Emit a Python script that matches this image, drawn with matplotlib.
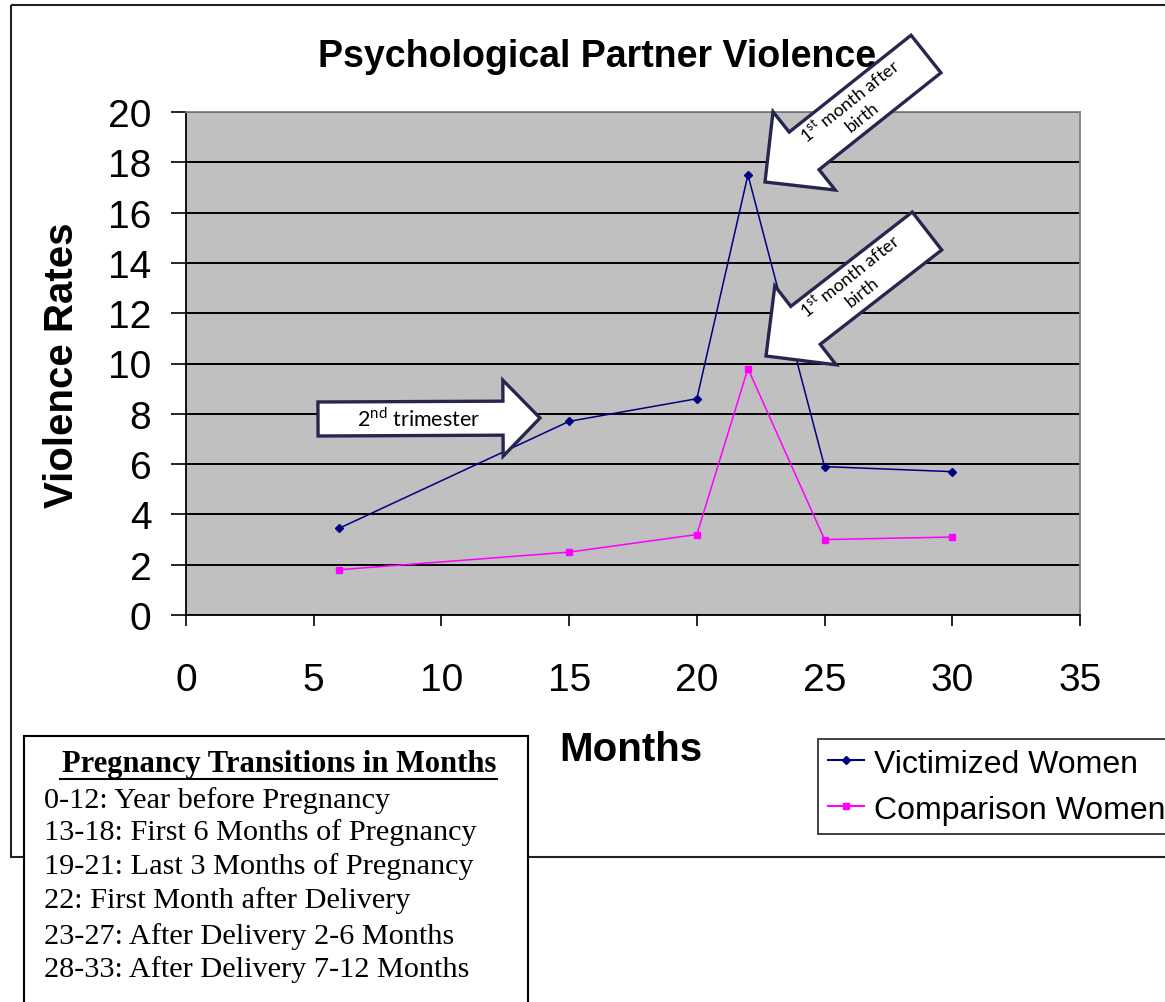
import numpy as np
import matplotlib
matplotlib.use("Agg")
import matplotlib.pyplot as plt
from matplotlib.patches import Polygon, Rectangle
from matplotlib.lines import Line2D
from matplotlib.transforms import Affine2D

# data
months = [6, 15, 20, 22, 25, 30]
victimized = [3.45, 7.7, 8.6, 17.5, 5.9, 5.7]
comparison = [1.8, 2.5, 3.2, 9.8, 3.0, 3.1]
series_names = ["Victimized Women", "Comparison Women"]
x_ticks = [0, 5, 10, 15, 20, 25, 30, 35]
y_ticks = [0, 2, 4, 6, 8, 10, 12, 14, 16, 18, 20]
transitions = [
    "0-12: Year before Pregnancy",
    "13-18: First 6 Months of Pregnancy",
    "19-21: Last 3 Months of Pregnancy",
    "22: First Month after Delivery",
    "23-27: After Delivery 2-6 Months",
    "28-33: After Delivery 7-12 Months",
]

plt.rcParams["font.family"] = ["Liberation Sans", "DejaVu Sans"]
plt.rcParams["mathtext.fontset"] = "custom"
plt.rcParams["mathtext.rm"] = "Lato"

W, H = 1165, 1003
fig = plt.figure(figsize=(W / 100, H / 100), dpi=100)
# pixel coordinates, origin top-left
px = Affine2D().scale(1 / W, -1 / H).translate(0, 1) + fig.transFigure

# outer chart border
fig.patches.append(Rectangle((11, 6), 1200, 852, transform=px, fill=False,
                             edgecolor="#222222", lw=1.5, zorder=0))

ax = fig.add_axes([186 / W, 1 - 616 / H, (1080 - 186) / W, (616 - 113) / H])
ax.set_facecolor("#C0C0C0")
ax.plot(months, victimized, color="#000080", lw=1.1, marker="D", ms=4, zorder=3)
ax.plot(months, comparison, color="#FF00FF", lw=1.1, marker="s", ms=4.5, zorder=3)

ax.set_xlim(0, 35)
ax.set_ylim(0, 20)
ax.set_xticks(x_ticks)
ax.set_yticks(y_ticks)
ax.yaxis.grid(True, color="black", lw=1.4)
ax.set_axisbelow(True)
ax.tick_params(axis="y", direction="out", length=11, width=1.2, pad=14, labelsize=28)
ax.tick_params(axis="x", direction="out", length=8, width=1.2, pad=26, labelsize=28)
for s in ["left", "bottom"]:
    ax.spines[s].set_color("black")
    ax.spines[s].set_linewidth(1.3)
for s in ["top", "right"]:
    ax.spines[s].set_color("#808080")
    ax.spines[s].set_linewidth(1.3)

fig.text(597 / W, 1 - 57 / H, "Psychological Partner Violence", ha="center",
         va="center", fontsize=27, fontweight="bold")
fig.text(62 / W, 1 - 365 / H, "Violence Rates", ha="center", va="center",
         rotation=90, fontsize=29, fontweight="bold")
fig.text(631 / W, 1 - 750 / H, "Months", ha="center", va="center",
         fontsize=29, fontweight="bold")

# legend
handles = [Line2D([], [], color="#000080", lw=1.5, marker="D", ms=4),
           Line2D([], [], color="#FF00FF", lw=1.5, marker="s", ms=5)]
leg = fig.legend(handles, series_names, loc="upper left",
                 bbox_to_anchor=(818 / W, 1 - 740 / H), borderaxespad=0,
                 fontsize=23, frameon=True, fancybox=False, handlelength=1.15,
                 handletextpad=0.3, borderpad=0.3, labelspacing=0.5)
leg.get_frame().set_edgecolor("black")
leg.get_frame().set_linewidth(1.3)


def arrow(tail, tip, body_hw, head_hw, head_len):
    tail = np.array(tail, float)
    tip = np.array(tip, float)
    u = (tip - tail) / np.hypot(*(tip - tail))
    n = np.array([-u[1], u[0]])
    base = tip - u * head_len
    pts = [tail + n * body_hw, base + n * body_hw, base + n * head_hw, tip,
           base - n * head_hw, base - n * body_hw, tail - n * body_hw]
    fig.patches.append(Polygon(pts, closed=True, transform=px, facecolor="white",
                               edgecolor="#262650", lw=2.4, joinstyle="miter",
                               zorder=5))


arrow((318, 420), (540, 419), 17, 38, 37)
arrow((926, 55), (765, 183), 24, 50, 50)
arrow((927, 232), (766, 357), 24, 50, 50)

fig.text(419 / W, 1 - 419 / H, r"2$^{\rm nd}$ trimester", family="Lato",
         fontsize=15.5, ha="center", va="center", zorder=6)
for cx, cy in [(855, 108), (855, 283)]:
    fig.text(cx / W, 1 - cy / H, "1$^{\\rm st}$ month after\nbirth", family="Lato",
             fontsize=13, ha="center", va="center", rotation=38.5,
             rotation_mode="anchor", multialignment="center", linespacing=1.25,
             zorder=6)

# pregnancy transitions box
fig.patches.append(Rectangle((24, 737), 504, 300, transform=px, facecolor="white",
                             edgecolor="black", lw=1.5, zorder=4))
fig.text(279 / W, 1 - 765 / H, "Pregnancy Transitions in Months",
         family="Liberation Serif", fontweight="bold", fontsize=22,
         ha="center", va="center", zorder=6)
fig.lines.append(Line2D([60, 497], [780, 780], transform=px, color="black",
                        lw=1.5, zorder=6))
for i, line in enumerate(transitions):
    ys = [801, 833, 867, 901, 937, 970][i]
    fig.text(44 / W, 1 - ys / H, line, family="Liberation Serif", fontsize=21.8,
             ha="left", va="center", zorder=6)

fig.savefig("out.png", dpi=100)
